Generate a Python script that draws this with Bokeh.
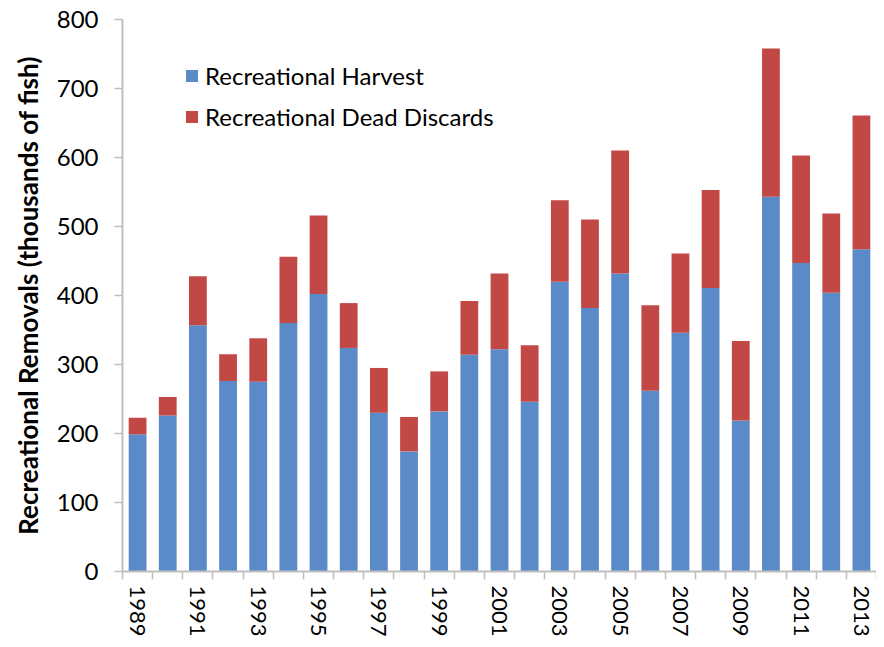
import math
from bokeh.plotting import figure
from bokeh.models import ColumnDataSource, FixedTicker, Legend, LegendItem
from bokeh.embed import file_html
from bokeh.resources import INLINE

years = list(range(1989, 2014))
harvest = [199, 226, 357, 276, 275, 360, 402, 324, 230, 174, 232, 314, 322, 246, 420,
           382, 432, 262, 346, 411, 219, 543, 447, 404, 467]
total = [223, 253, 428, 315, 338, 456, 516, 389, 295, 224, 290, 392, 432, 328, 538,
         510, 610, 386, 461, 553, 334, 758, 603, 519, 661]
discards = [t - h for t, h in zip(total, harvest)]
series_names = ["Recreational Harvest", "Recreational Dead Discards"]
y_ticks = [0, 100, 200, 300, 400, 500, 600, 700, 800]
label_years = [y for y in years if (y - 1989) % 2 == 0]
boundaries = [y - 0.5 for y in years] + [years[-1] + 0.5]

FONT = "Lato"
BLUE = "#5A8AC7"
RED = "#C24846"
GRAY = "#BFBFBF"

src = ColumnDataSource(dict(year=years, harvest=harvest, discards=discards))

p = figure(width=876, height=639, output_backend="svg", toolbar_location=None,
           x_range=(years[0] - 0.5, years[-1] + 0.5), y_range=(0, 800),
           min_border_left=122, min_border_top=19, min_border_right=0, min_border_bottom=0)
p.outline_line_color = None
p.xgrid.visible = False
p.ygrid.visible = False
p.background_fill_color = "white"

rs = p.vbar_stack(["harvest", "discards"], x="year", width=0.59, source=src,
                  color=[BLUE, RED], line_color=None)

# y axis
p.yaxis.ticker = FixedTicker(ticks=y_ticks)
p.yaxis.axis_line_color = GRAY
p.yaxis.axis_line_width = 2
p.yaxis.major_tick_line_color = GRAY
p.yaxis.major_tick_line_width = 1.5
p.yaxis.major_tick_out = 8
p.yaxis.major_tick_in = 0
p.yaxis.minor_tick_line_color = None
p.yaxis.major_label_text_font = FONT
p.yaxis.major_label_text_font_size = "24px"
p.yaxis.major_label_text_color = "black"
p.yaxis.major_label_standoff = 16
p.yaxis.axis_label = "Recreational Removals (thousands of fish)"
p.yaxis.axis_label_text_font = FONT
p.yaxis.axis_label_text_font_style = "bold"
p.yaxis.axis_label_text_font_size = "26px"
p.yaxis.axis_label_text_color = "black"
p.yaxis.axis_label_standoff = 10

# x axis
p.xaxis.ticker = FixedTicker(ticks=label_years, minor_ticks=boundaries)
p.xaxis.axis_line_color = GRAY
p.xaxis.axis_line_width = 2
p.xaxis.major_tick_line_color = None
p.xaxis.major_tick_out = 0
p.xaxis.major_tick_in = 0
p.xaxis.minor_tick_line_color = GRAY
p.xaxis.minor_tick_line_width = 1.5
p.xaxis.minor_tick_out = 8
p.xaxis.minor_tick_in = 0
p.xaxis.major_label_orientation = -math.pi / 2
p.xaxis.major_label_text_font = FONT
p.xaxis.major_label_text_font_size = "22px"
p.xaxis.major_label_text_color = "black"
p.xaxis.major_label_standoff = 6

legend = Legend(items=[LegendItem(label=series_names[0], renderers=[rs[0]]),
                       LegendItem(label=series_names[1], renderers=[rs[1]])],
                location=(62, 440))
legend.border_line_color = None
legend.background_fill_alpha = 0
legend.padding = 0
legend.margin = 0
legend.spacing = 12
legend.glyph_width = 15
legend.glyph_height = 15
legend.label_height = 28
legend.label_standoff = 6
legend.label_text_font = FONT
legend.label_text_font_size = "24px"
legend.label_text_color = "black"
p.add_layout(legend, "center")

open("out.html", "w").write(file_html(p, INLINE))
